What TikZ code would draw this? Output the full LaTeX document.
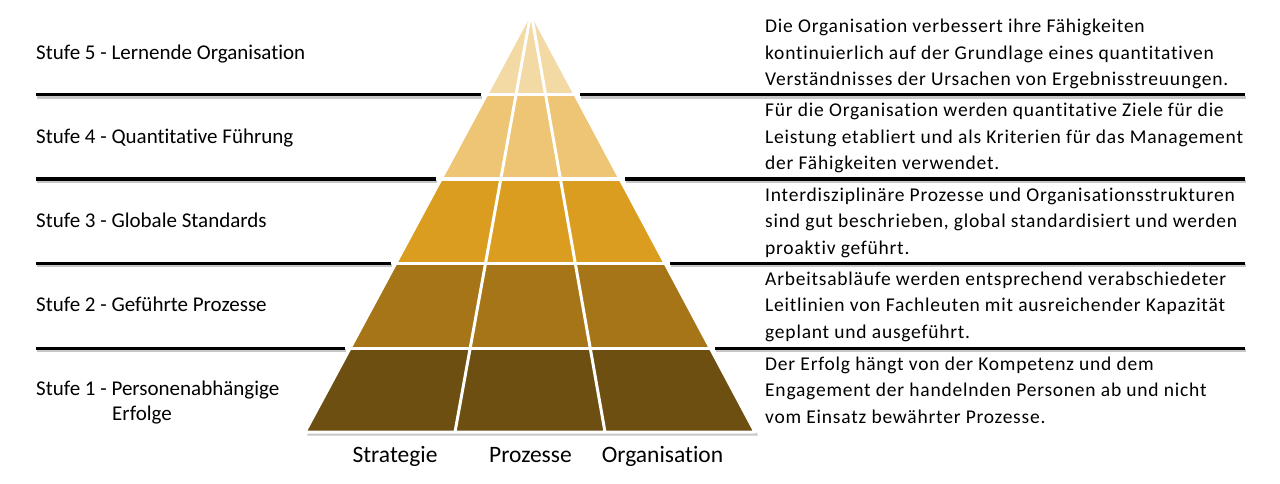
\documentclass[tikz,border=0pt]{standalone}
\usepackage{fontspec}
\setmainfont{Carlito}[Ligatures=NoCommon]
\newfontfamily\descfont[LetterSpace=4,Ligatures=NoCommon]{Carlito}
\usetikzlibrary{calc}
\definecolor{bandfive}{HTML}{F3D9A4}
\definecolor{bandfour}{HTML}{EDC574}
\definecolor{bandthree}{HTML}{DA9D1F}
\definecolor{bandtwo}{HTML}{A67517}
\definecolor{bandone}{HTML}{6E4F12}
\tikzset{
  lab/.style={anchor=base west, inner sep=0pt, font=\fontsize{21}{25}\selectfont},
  desc/.style={anchor=base west, inner sep=0pt, font=\descfont\fontsize{19.5}{26}\selectfont},
  axis/.style={anchor=base, inner sep=0pt, font=\fontsize{23.5}{28}\selectfont},
  sep/.style={line width=3pt, black},
  sepshadow/.style={line width=3pt, black, opacity=0.22},
  gap/.style={white, line width=3pt}
}
\begin{document}
\begin{tikzpicture}[x=1pt,y=-1pt]
\useasboundingbox (0,0) rectangle (1280,484);
\coordinate (apex) at (531,12);
\coordinate (bl) at (305,432);
\coordinate (br) at (755,432);
% pyramid shadow
\fill[black,opacity=0.22] ($(apex)+(2,3)$) -- ($(bl)+(2,3.5)$) -- ($(br)+(3,3.5)$) -- cycle;
\begin{scope}
  \clip (apex) -- (bl) -- (br) -- cycle;
  \fill[bandfive]  (300,0)   rectangle (760,95);
  \fill[bandfour]  (300,95)  rectangle (760,179);
  \fill[bandthree] (300,179) rectangle (760,263);
  \fill[bandtwo]   (300,263) rectangle (760,348);
  \fill[bandone]   (300,348) rectangle (760,440);
  \foreach \yy in {95,179,263,348} \draw[gap] (300,\yy) -- (760,\yy);
  \draw[gap] (apex) -- (455,432);
  \draw[gap] (apex) -- (605,432);
\end{scope}
\draw[gap, line join=round] (apex) -- (bl) -- (br) -- cycle;
% separator lines
\foreach \yy/\le/\rs in {95/481/580, 179/436/625, 263/391/670, 348/345/715}{
  \draw[sepshadow] (37,\yy+2.5) -- (\le+1,\yy+2.5);
  \draw[sepshadow] (\rs+1,\yy+2.5) -- (1246,\yy+2.5);
  \draw[sep] (36,\yy) -- (\le,\yy);
  \draw[sep] (\rs,\yy) -- (1245,\yy);
}
% left labels
\node[lab] (s5) at (36,59.3) {Stufe 5 - Lernende Organisation};
\node[lab] (s4) at (36,143.3) {Stufe 4 - Quantitative Führung};
\node[lab] (s3) at (36,227) {Stufe 3 - Globale Standards};
\node[lab] (s2) at (36,311) {Stufe 2 - Geführte Prozesse};
\node[lab] (s1) at (36,395) {Stufe 1 - Personenabhängige};
\node[lab] (s1b) at (112,420.5) {Erfolge};
% descriptions
\node[desc] (d5a) at (765,33) {Die Organisation verbessert ihre Fähigkeiten};
\node[desc] (d5b) at (765,59.5) {kontinuierlich auf der Grundlage eines quantitativen};
\node[desc] (d5c) at (765,86) {Verständnisses der Ursachen von Ergebnisstreuungen.};
\node[desc] (d4a) at (765,117) {Für die Organisation werden quantitative Ziele für die};
\node[desc] (d4b) at (765,143.5) {Leistung etabliert und als Kriterien für das Management};
\node[desc] (d4c) at (765,170) {der Fähigkeiten verwendet.};
\node[desc] (d3a) at (765,201) {Interdisziplinäre Prozesse und Organisationsstrukturen};
\node[desc] (d3b) at (765,227.5) {sind gut beschrieben, global standardisiert und werden};
\node[desc] (d3c) at (765,254) {proaktiv geführt.};
\node[desc] (d2a) at (765,285) {Arbeitsabläufe werden entsprechend verabschiedeter};
\node[desc] (d2b) at (765,311.5) {Leitlinien von Fachleuten mit ausreichender Kapazität};
\node[desc] (d2c) at (765,338) {geplant und ausgeführt.};
\node[desc] (d1a) at (765,370) {Der Erfolg hängt von der Kompetenz und dem};
\node[desc] (d1b) at (765,396.5) {Engagement der handelnden Personen ab und nicht};
\node[desc] (d1c) at (765,423) {vom Einsatz bewährter Prozesse.};
% axis labels
\node[axis] (ax1) at (395,462) {Strategie};
\node[axis] (ax2) at (530.5,462) {Prozesse};
\node[axis] (ax3) at (662.5,462) {Organisation};
\end{tikzpicture}
\end{document}
